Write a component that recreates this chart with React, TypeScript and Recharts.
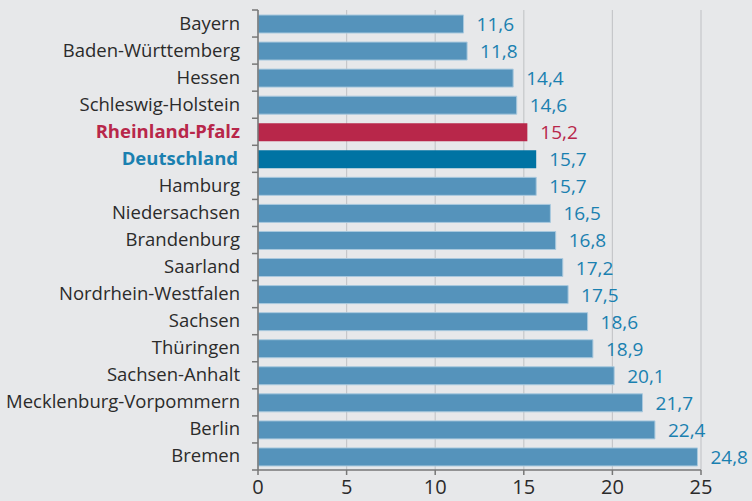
import React from 'react';
import { BarChart, Bar, XAxis, YAxis, CartesianGrid, Cell, LabelList } from 'recharts';

const LAENDER = [
  'Bayern', 'Baden-Württemberg', 'Hessen', 'Schleswig-Holstein', 'Rheinland-Pfalz',
  'Deutschland', 'Hamburg', 'Niedersachsen', 'Brandenburg', 'Saarland',
  'Nordrhein-Westfalen', 'Sachsen', 'Thüringen', 'Sachsen-Anhalt',
  'Mecklenburg-Vorpommern', 'Berlin', 'Bremen',
];
const WERTE = [11.6, 11.8, 14.4, 14.6, 15.2, 15.7, 15.7, 16.5, 16.8, 17.2, 17.5, 18.6, 18.9, 20.1, 21.7, 22.4, 24.8];
const X_TICKS = [0, 5, 10, 15, 20, 25];

const BG = '#e7e8ea';
const BAR = '#5593bb';
const RLP = '#b8274a';
const DE = '#0073a3';
const LABEL_BLUE = '#1a80b0';
const FONT = '"Open Sans", "Noto Sans", sans-serif';

const data = LAENDER.map((name, i) => ({ name, wert: WERTE[i] }));

const fillFor = (name: string) => (name === 'Rheinland-Pfalz' ? RLP : name === 'Deutschland' ? DE : BAR);
const textFor = (name: string) => (name === 'Rheinland-Pfalz' ? RLP : name === 'Deutschland' ? LABEL_BLUE : '#2b2b2b');

const BAND = 460 / LAENDER.length;

// tick marks sit on the category boundaries, like in the original
const CatTick = (props: any) => {
  const { x, y, payload, index } = props;
  const name = payload.value as string;
  const bold = name === 'Rheinland-Pfalz' || name === 'Deutschland';
  return (
    <g>
      <line x1={x + 2} x2={x + 8} y1={y - BAND / 2} y2={y - BAND / 2} stroke="#777" strokeWidth={1.5} />
      {index === LAENDER.length - 1 && (
        <line x1={x + 2} x2={x + 8} y1={y + BAND / 2} y2={y + BAND / 2} stroke="#777" strokeWidth={1.5} />
      )}
      <text x={name === 'Deutschland' ? x - 12 : x - 10} y={y} dy={6} textAnchor="end" fontFamily={FONT}
        fontSize={18.5} fontWeight={bold ? 700 : 400} fill={textFor(name)}>
        {name}
      </text>
    </g>
  );
};

const ValueLabel = (props: any) => {
  const { x, y, width, height, value, index } = props;
  const name = LAENDER[index];
  return (
    <text x={x + width + 13} y={y + height / 2} dy={7} fontFamily={FONT} fontSize={19}
      fill={name === 'Rheinland-Pfalz' ? RLP : LABEL_BLUE}>
      {String(value).replace('.', ',')}
    </text>
  );
};

export default function App() {
  return (
    <div style={{ position: 'fixed', left: 0, top: 0, width: 752, height: 501, background: BG }}>
      <BarChart width={752} height={501} data={data} layout="vertical"
        margin={{ top: 10, right: 51, left: 0, bottom: 0 }}>
        <CartesianGrid horizontal={false} vertical stroke="#c6c7ca" strokeWidth={1.2} />
        <XAxis type="number" domain={[0, 25]} ticks={X_TICKS} interval={0} height={31}
          axisLine={{ stroke: '#777', strokeWidth: 1.5 }} tickLine={{ stroke: '#777', strokeWidth: 1.5 }}
          tickSize={5} tickMargin={5}
          tick={{ fontFamily: FONT, fontSize: 20, fill: '#2b2b2b' }} />
        <YAxis type="category" dataKey="name" width={258} interval={0}
          axisLine={{ stroke: '#777', strokeWidth: 1.5 }} tickLine={false} tick={<CatTick />} />
        <Bar dataKey="wert" barSize={18} isAnimationActive={false}>
          {data.map((d) => (
            <Cell key={d.name} fill={fillFor(d.name)}
              stroke={d.name === 'Rheinland-Pfalz' || d.name === 'Deutschland' ? 'none' : '#a9c9de'} strokeWidth={1} />
          ))}
          <LabelList dataKey="wert" content={<ValueLabel />} />
        </Bar>
      </BarChart>
    </div>
  );
}
